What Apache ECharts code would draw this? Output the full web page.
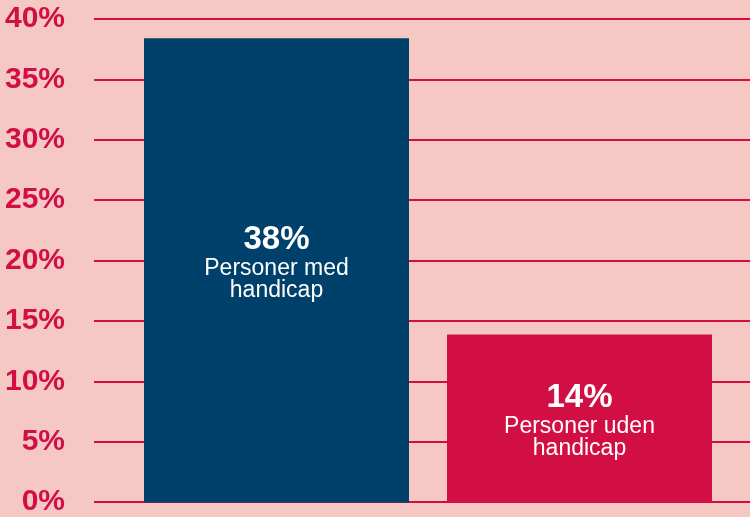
<!DOCTYPE html>
<html>
<head>
<meta charset="utf-8">
<script src="https://cdn.jsdelivr.net/npm/echarts@6/dist/echarts.min.js"></script>
<style>
html,body{margin:0;padding:0;background:#f5c8c3;}
#chart{width:750px;height:517px;}
</style>
</head>
<body>
<div id="chart"></div>
<script>
const categories = ['Personer med handicap', 'Personer uden handicap'];
const values = [38.4, 13.9];
const valueLabels = ['38%', '14%'];
const nameLines = [['Personer med', 'handicap'], ['Personer uden', 'handicap']];
const barColors = ['#00416c', '#d20f45'];
const yTicks = [0, 5, 10, 15, 20, 25, 30, 35, 40];

const chart = echarts.init(document.getElementById('chart'));
const gridTop = 19, gridBottom = 517 - 502.5;
const labelShift = [-9, 1];
chart.setOption({
  backgroundColor: '#f5c8c3',
  animation: false,
  grid: [
    {left: 94, right: 0, top: gridTop, bottom: gridBottom},
    {left: 125, right: 19, top: gridTop, bottom: gridBottom}
  ],
  xAxis: [
    {gridIndex: 0, type: 'category', data: categories, show: false},
    {gridIndex: 1, type: 'category', data: categories, show: false}
  ],
  yAxis: [
    {
      gridIndex: 0, type: 'value', min: yTicks[0], max: yTicks[yTicks.length - 1], interval: 5,
      axisLine: {show: false}, axisTick: {show: false},
      axisLabel: {
        formatter: v => v + '%', color: '#d20f45', fontWeight: 'bold',
        fontSize: 30, fontFamily: 'Liberation Sans, Arial, sans-serif', margin: 29
      },
      splitLine: {lineStyle: {color: '#d20f45', width: 2}}
    },
    {gridIndex: 1, type: 'value', min: 0, max: 40, show: false, splitLine: {show: false}}
  ],
  series: [{
    type: 'bar',
    xAxisIndex: 1, yAxisIndex: 1,
    barWidth: 265,
    z: 3,
    data: values.map((v, i) => ({value: v, itemStyle: {color: barColors[i]}, label: {offset: [0, labelShift[i]]}})),
    label: {
      show: true,
      position: 'inside',
      align: 'center',
      verticalAlign: 'middle',
      formatter: p => '{a|' + valueLabels[p.dataIndex] + '}\n' + nameLines[p.dataIndex].map(s => '{b|' + s + '}').join('\n'),
      rich: {
        a: {fontSize: 33, fontWeight: 'bold', color: '#ffffff', lineHeight: 36, fontFamily: 'Liberation Sans, Arial, sans-serif', align: 'center'},
        b: {fontSize: 23, color: '#ffffff', lineHeight: 22, fontFamily: 'Liberation Sans, Arial, sans-serif', align: 'center'}
      }
    }
  }]
});
</script>
</body>
</html>
